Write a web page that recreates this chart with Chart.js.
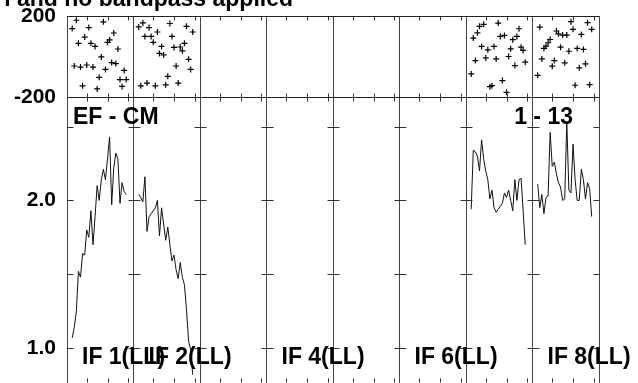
<!DOCTYPE html>
<html>
<head>
<meta charset="utf-8">
<script src="https://cdn.jsdelivr.net/npm/chart.js@4/dist/chart.umd.min.js"></script>
<style>
  html, body { margin: 0; padding: 0; background: #fff; overflow: hidden; }
  #wrap { width: 638px; height: 383px; position: relative; }
</style>
</head>
<body>
<div id="wrap"><canvas id="possm"></canvas></div>
<script>
// Channels plotted in each IF (edge channels are flagged)
const chans = [3, 4, 5, 6, 7, 8, 9, 10, 11, 12, 13, 14, 15, 16, 17, 18, 19, 20, 21, 22, 23, 24, 25, 26, 27, 28, 29];
const nChan = 32;
const nIF = 8;

// Amplitude per channel
const if1Amp = [1.07, 1.14, 1.25, 1.52, 1.48, 1.64, 1.63, 1.80, 1.75, 1.93, 1.70, 1.89, 2.10, 2.00, 2.14, 2.21, 2.14, 2.28, 2.43, 1.97, 2.22, 2.32, 2.28, 1.98, 2.12, 2.06, 2.04];
const if2Amp = [2.04, 2.02, 1.99, 2.16, 1.79, 1.89, 1.91, 1.93, 1.95, 2.00, 1.76, 1.95, 1.84, 1.73, 1.82, 1.70, 1.59, 1.63, 1.53, 1.47, 1.58, 1.48, 1.43, 1.26, 1.05, 0.99, 0.82];
const if7Amp = [1.94, 2.34, 2.33, 2.30, 2.20, 2.41, 2.28, 2.20, 2.14, 2.01, 2.07, 1.95, 1.92, 1.94, 1.96, 1.98, 2.05, 2.02, 2.07, 2.00, 1.93, 2.14, 2.00, 2.14, 2.15, 1.93, 1.70];
const if8Amp = [2.11, 1.95, 2.04, 1.91, 2.02, 2.03, 2.46, 2.23, 2.26, 2.18, 2.12, 2.09, 2.00, 2.01, 2.53, 2.07, 2.05, 2.38, 2.14, 2.00, 2.00, 2.21, 2.14, 2.01, 2.12, 2.08, 1.89];

// Phase per channel (degrees)
const if1Phase = [138, -47, 179, 65, -52, -145, 96, -42, 143, 65, -52, 50, -160, -103, -2, 171, -64, 70, 82, -30, 116, -35, 37, -114, -148, -69, -114];
const if2Phase = [146, -145, 166, 99, -131, 143, 99, 70, -145, 121, 15, 50, 8, -140, -98, 163, 99, 45, -47, -131, 47, 28, 65, 149, -14, -64, 121];
const if7Phase = [-86, 91, -20, 117, 149, 50, 159, -7, 33, -149, -144, 50, -12, 165, 99, -119, 104, -177, 0, 38, 83, -45, 99, 137, 46, 30, -28];
const if8Phase = [-93, 145, -12, 40, 51, 68, 84, -48, -20, 126, 112, 46, 106, -31, 106, 26, 172, 134, -142, 40, -56, 109, 35, -36, 167, -139, 134];

const series = [
  { ifNum: 1, amp: if1Amp, phase: if1Phase },
  { ifNum: 2, amp: if2Amp, phase: if2Phase },
  { ifNum: 7, amp: if7Amp, phase: if7Phase },
  { ifNum: 8, amp: if8Amp, phase: if8Phase }
];

// Axis ticks and labels
const phaseTicks = [-200, 0, 200];
const phaseLabels = ['-200', '', '200'];
const ampTicks = [1.0, 1.5, 2.0, 2.5];
const ampLabels = ['1.0', '', '2.0', ''];
const chanTicks = [10, 20, 30];
const ifLabelsShown = [1, 2, 4, 6, 8];
const baselineText = 'EF - CM';
const timeText = '1 - 13';
const titleText = 'l and no bandpass applied';

const ink = '#111';
const labelFont = 'bold 23px "Liberation Sans", Arial, sans-serif';

// channel c of IF k sits at (k-1)*nChan + c - 0.5
const xOf = (ifNum, ch) => (ifNum - 1) * nChan + ch - 0.5;

// keep tick labels from pushing the plot area around
const noPad = s => { s.paddingTop = 0; s.paddingBottom = 0; s.paddingLeft = 0; s.paddingRight = 0; };

const datasets = [];
series.forEach(s => {
  datasets.push({
    label: 'IF ' + s.ifNum + ' amp',
    data: chans.map((c, i) => ({ x: xOf(s.ifNum, c), y: s.amp[i] })),
    yAxisID: 'amp',
    borderColor: ink,
    borderWidth: 1,
    pointRadius: 0,
    tension: 0,
    fill: false
  });
  datasets.push({
    label: 'IF ' + s.ifNum + ' phase',
    data: chans.map((c, i) => ({ x: xOf(s.ifNum, c), y: s.phase[i] })),
    yAxisID: 'phase',
    showLine: false,
    pointStyle: 'cross',
    pointRadius: 3,
    borderColor: '#000',
    borderWidth: 1.2
  });
});

// tick marks and panel text, drawn in the AIPS style
const possmDecor = {
  id: 'possmDecor',
  afterDraw(chart) {
    const ctx = chart.ctx;
    const area = chart.chartArea;
    const x = chart.scales.x;
    const ph = chart.scales.phase;
    const amp = chart.scales.amp;
    const mid = Math.round(ph.getPixelForValue(-200)) + 0.5;
    const top = Math.round(area.top) + 0.5;
    const bot = Math.round(area.bottom) - 0.5;

    ctx.save();
    ctx.strokeStyle = '#333';
    ctx.lineWidth = 1;
    ctx.beginPath();
    for (let k = 1; k <= nIF; k++) {
      chanTicks.forEach(c => {
        const px = Math.round(x.getPixelForValue(xOf(k, c))) + 0.5;
        ctx.moveTo(px, top); ctx.lineTo(px, top + 4);
        ctx.moveTo(px, mid - 4); ctx.lineTo(px, mid + 4);
        ctx.moveTo(px, bot); ctx.lineTo(px, bot - 4);
      });
    }
    for (let k = 0; k <= nIF; k++) {
      const px = Math.round(x.getPixelForValue(k * nChan)) + 0.5;
      ampTicks.forEach(v => {
        const py = Math.round(amp.getPixelForValue(v)) + 0.5;
        ctx.moveTo(Math.max(px - 6, area.left), py);
        ctx.lineTo(Math.min(px + 6, area.right), py);
      });
    }
    ctx.stroke();

    ctx.fillStyle = '#000';
    ctx.font = labelFont;
    ctx.textBaseline = 'alphabetic';
    ctx.textAlign = 'left';
    ifLabelsShown.forEach(k => {
      ctx.fillText('IF ' + k + '(LL)', x.getPixelForValue((k - 1) * nChan) + 15, amp.getPixelForValue(1.0) + 16);
    });
    ctx.fillText(baselineText, area.left + 6, amp.top + 27);
    ctx.textAlign = 'right';
    ctx.fillText(timeText, area.right - 26, amp.top + 27);
    ctx.fillText(titleText, 293, 6);
    ctx.restore();
  }
};

const ctx = document.getElementById('possm').getContext('2d');
const possm = new Chart(ctx, {
  type: 'line',
  data: { datasets: datasets },
  options: {
    responsive: true,
    maintainAspectRatio: false,
    animation: false,
    // the plot runs to the bottom edge of the picture
    layout: { autoPadding: false, padding: { left: 0, right: 39, top: 16, bottom: 0 } },
    plugins: {
      legend: { display: false },
      tooltip: { enabled: false }
    },
    scales: {
      x: {
        type: 'linear',
        min: 0,
        max: nIF * nChan,
        afterFit: s => { s.height = 0; noPad(s); },
        ticks: { display: false, stepSize: nChan },
        grid: { color: '#444', lineWidth: 1, drawTicks: false },
        border: { display: false }
      },
      amp: {
        type: 'linear',
        position: 'left',
        stack: 'panels',
        stackWeight: 286,
        min: 0.764,
        max: 2.7,
        afterBuildTicks: s => { s.ticks = ampTicks.map(v => ({ value: v })); },
        afterFit: s => { s.width = 67; noPad(s); },
        ticks: {
          padding: 11,
          color: '#000',
          font: { family: '"Liberation Sans", Arial, sans-serif', size: 21, weight: 'bold' },
          callback: (v, i) => ampLabels[i]
        },
        grid: { display: false, drawTicks: false },
        border: { display: false }
      },
      phase: {
        type: 'linear',
        position: 'left',
        stack: 'panels',
        stackWeight: 81,
        min: -200,
        max: 200,
        afterBuildTicks: s => { s.ticks = phaseTicks.map(v => ({ value: v })); },
        afterFit: s => { s.width = 67; noPad(s); },
        ticks: {
          padding: 11,
          color: '#000',
          font: { family: '"Liberation Sans", Arial, sans-serif', size: 21, weight: 'bold' },
          callback: (v, i) => phaseLabels[i]
        },
        grid: { color: '#222', lineWidth: 1, drawTicks: false },
        border: { display: false }
      }
    }
  },
  plugins: [possmDecor]
});
</script>
</body>
</html>
